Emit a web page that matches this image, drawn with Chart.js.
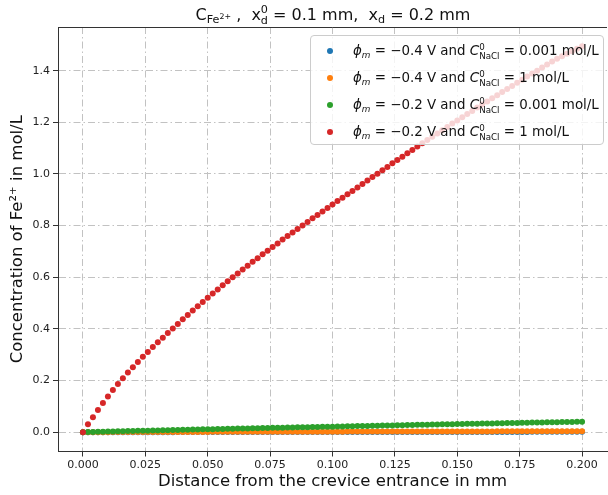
<!DOCTYPE html>
<html>
<head>
<meta charset="utf-8">
<script src="https://cdn.jsdelivr.net/npm/chart.js@4.4.1/dist/chart.umd.min.js"></script>
<style>
  body { margin: 0; background: #fff; }
  #wrap { position: relative; width: 608px; height: 495px; overflow: hidden; font-family: "DejaVu Sans", sans-serif; color: #111; }
  #c { position: absolute; left: 0; top: 0; }
  #title { position: absolute; left: 133px; width: 400px; top: 4px; text-align: center; font-size: 16px; line-height: 20px; white-space: nowrap; }
  #legend { position: absolute; left: 310px; top: 35px; width: 292px; height: 107px; padding-top: 1px;
    background: rgba(255,255,255,0.8); border: 1px solid #cccccc; border-radius: 4px; font-size: 13.4px; }
  .row { position: relative; height: 27px; line-height: 27px; white-space: nowrap; }
  .mk { position: absolute; left: 16px; top: 10.5px; width: 6px; height: 6px; border-radius: 50%; }
  .tx { position: absolute; left: 42px; top: 0; }
  .sb { font-size: 70%; vertical-align: -0.3em; line-height: 0; }
  .sp { font-size: 70%; vertical-align: 0.55em; line-height: 0; }
  .stk { display: inline-block; font-size: 70%; line-height: 1; vertical-align: -0.4em; text-align: left; }
  .stk span { display: block; }
  #legend .sb { font-size: 66%; }
  #legend .stk { font-size: 65%; vertical-align: -0.45em; }
</style>
</head>
<body>
<div id="wrap">
  <canvas id="c" width="611" height="495" style="width:611px;height:495px"></canvas>
  <div id="title">C<span class="sb">Fe<span class="sp">2+</span></span>&nbsp;,&nbsp; x<span class="stk"><span>0</span><span>d</span></span> = 0.1 mm,&nbsp; x<span class="sb">d</span> = 0.2 mm</div>
  <div id="legend"></div>
</div>
<script>
const xs = [
  0.000, 0.002, 0.004, 0.006, 0.008, 0.010, 0.012, 0.014, 0.016, 0.018,
  0.020, 0.022, 0.024, 0.026, 0.028, 0.030, 0.032, 0.034, 0.036, 0.038,
  0.040, 0.042, 0.044, 0.046, 0.048, 0.050, 0.052, 0.054, 0.056, 0.058,
  0.060, 0.062, 0.064, 0.066, 0.068, 0.070, 0.072, 0.074, 0.076, 0.078,
  0.080, 0.082, 0.084, 0.086, 0.088, 0.090, 0.092, 0.094, 0.096, 0.098,
  0.100, 0.102, 0.104, 0.106, 0.108, 0.110, 0.112, 0.114, 0.116, 0.118,
  0.120, 0.122, 0.124, 0.126, 0.128, 0.130, 0.132, 0.134, 0.136, 0.138,
  0.140, 0.142, 0.144, 0.146, 0.148, 0.150, 0.152, 0.154, 0.156, 0.158,
  0.160, 0.162, 0.164, 0.166, 0.168, 0.170, 0.172, 0.174, 0.176, 0.178,
  0.180, 0.182, 0.184, 0.186, 0.188, 0.190, 0.192, 0.194, 0.196, 0.198,
  0.200
];

// phi = -0.4 V, C = 0.001 mol/L
const blueVals = [
  0.0000, 0.0000, 0.0001, 0.0001, 0.0001, 0.0001, 0.0001, 0.0002, 0.0002, 0.0002,
  0.0002, 0.0002, 0.0002, 0.0003, 0.0003, 0.0003, 0.0003, 0.0003, 0.0003, 0.0004,
  0.0004, 0.0004, 0.0004, 0.0004, 0.0004, 0.0004, 0.0005, 0.0005, 0.0005, 0.0005,
  0.0005, 0.0005, 0.0005, 0.0006, 0.0006, 0.0006, 0.0006, 0.0006, 0.0006, 0.0006,
  0.0007, 0.0007, 0.0007, 0.0007, 0.0007, 0.0007, 0.0007, 0.0007, 0.0008, 0.0008,
  0.0008, 0.0008, 0.0008, 0.0008, 0.0008, 0.0008, 0.0009, 0.0009, 0.0009, 0.0009,
  0.0009, 0.0009, 0.0009, 0.0009, 0.0010, 0.0010, 0.0010, 0.0010, 0.0010, 0.0010,
  0.0010, 0.0010, 0.0011, 0.0011, 0.0011, 0.0011, 0.0011, 0.0011, 0.0011, 0.0011,
  0.0011, 0.0012, 0.0012, 0.0012, 0.0012, 0.0012, 0.0012, 0.0012, 0.0012, 0.0012,
  0.0013, 0.0013, 0.0013, 0.0013, 0.0013, 0.0013, 0.0013, 0.0013, 0.0013, 0.0014,
  0.0014
];

// phi = -0.4 V, C = 1 mol/L
const orangeVals = [
  0.0000, 0.0001, 0.0002, 0.0002, 0.0003, 0.0003, 0.0004, 0.0004, 0.0005, 0.0005,
  0.0006, 0.0006, 0.0007, 0.0007, 0.0008, 0.0008, 0.0009, 0.0009, 0.0009, 0.0010,
  0.0010, 0.0011, 0.0011, 0.0011, 0.0012, 0.0012, 0.0013, 0.0013, 0.0013, 0.0014,
  0.0014, 0.0015, 0.0015, 0.0015, 0.0016, 0.0016, 0.0016, 0.0017, 0.0017, 0.0018,
  0.0018, 0.0018, 0.0019, 0.0019, 0.0019, 0.0020, 0.0020, 0.0020, 0.0021, 0.0021,
  0.0022, 0.0022, 0.0022, 0.0023, 0.0023, 0.0023, 0.0024, 0.0024, 0.0024, 0.0025,
  0.0025, 0.0025, 0.0026, 0.0026, 0.0026, 0.0027, 0.0027, 0.0027, 0.0028, 0.0028,
  0.0028, 0.0029, 0.0029, 0.0029, 0.0030, 0.0030, 0.0030, 0.0031, 0.0031, 0.0031,
  0.0032, 0.0032, 0.0032, 0.0033, 0.0033, 0.0033, 0.0034, 0.0034, 0.0034, 0.0035,
  0.0035, 0.0035, 0.0036, 0.0036, 0.0036, 0.0037, 0.0037, 0.0037, 0.0038, 0.0038,
  0.0038
];

// phi = -0.2 V, C = 0.001 mol/L
const greenVals = [
  0.0000, 0.0006, 0.0011, 0.0016, 0.0020, 0.0025, 0.0029, 0.0034, 0.0038, 0.0043,
  0.0047, 0.0052, 0.0056, 0.0061, 0.0065, 0.0070, 0.0074, 0.0079, 0.0083, 0.0088,
  0.0092, 0.0097, 0.0101, 0.0106, 0.0110, 0.0115, 0.0119, 0.0123, 0.0127, 0.0131,
  0.0136, 0.0140, 0.0144, 0.0148, 0.0152, 0.0156, 0.0160, 0.0164, 0.0168, 0.0172,
  0.0176, 0.0180, 0.0184, 0.0188, 0.0192, 0.0196, 0.0200, 0.0204, 0.0208, 0.0212,
  0.0216, 0.0220, 0.0224, 0.0228, 0.0232, 0.0236, 0.0240, 0.0244, 0.0248, 0.0252,
  0.0256, 0.0260, 0.0264, 0.0268, 0.0272, 0.0276, 0.0280, 0.0284, 0.0288, 0.0292,
  0.0296, 0.0300, 0.0304, 0.0308, 0.0312, 0.0316, 0.0320, 0.0324, 0.0327, 0.0331,
  0.0335, 0.0339, 0.0342, 0.0346, 0.0350, 0.0353, 0.0357, 0.0361, 0.0364, 0.0368,
  0.0372, 0.0375, 0.0379, 0.0382, 0.0386, 0.0390, 0.0393, 0.0397, 0.0400, 0.0404,
  0.0407
];

// phi = -0.2 V, C = 1 mol/L
const redVals = [
  0.000, 0.031, 0.058, 0.086, 0.113, 0.138, 0.163, 0.187, 0.209, 0.231,
  0.252, 0.272, 0.292, 0.311, 0.330, 0.348, 0.366, 0.384, 0.402, 0.419,
  0.437, 0.454, 0.471, 0.488, 0.504, 0.521, 0.537, 0.553, 0.569, 0.585,
  0.600, 0.615, 0.630, 0.645, 0.660, 0.674, 0.689, 0.703, 0.717, 0.731,
  0.746, 0.760, 0.773, 0.787, 0.800, 0.814, 0.828, 0.841, 0.855, 0.868,
  0.882, 0.895, 0.908, 0.921, 0.934, 0.948, 0.961, 0.975, 0.988, 1.001,
  1.014, 1.027, 1.041, 1.054, 1.067, 1.080, 1.093, 1.106, 1.119, 1.131,
  1.144, 1.157, 1.169, 1.182, 1.195, 1.207, 1.220, 1.232, 1.244, 1.257,
  1.269, 1.281, 1.293, 1.305, 1.317, 1.329, 1.341, 1.353, 1.365, 1.377,
  1.389, 1.400, 1.412, 1.424, 1.435, 1.446, 1.456, 1.465, 1.475, 1.485,
  1.494
];

const xTicks = [0.000, 0.025, 0.050, 0.075, 0.100, 0.125, 0.150, 0.175, 0.200];
const yTicks = [0.0, 0.2, 0.4, 0.6, 0.8, 1.0, 1.2, 1.4];

const seriesPhi = ["0.4", "0.4", "0.2", "0.2"];
const seriesConc = ["0.001", "1", "0.001", "1"];
const seriesColors = ["#1f77b4", "#ff7f0e", "#2ca02c", "#d62728"];
const seriesValues = [blueVals, orangeVals, greenVals, redVals];

// legend with sub/superscripts is done in html
const legendEl = document.getElementById("legend");
seriesPhi.forEach((phi, i) => {
    legendEl.innerHTML += `<div class="row"><span class="mk" style="background:${seriesColors[i]}"></span>` +
        `<span class="tx"><i>ϕ</i><span class="sb"><i>m</i></span> = −${phi} V and ` +
        `<i>C</i><span class="stk"><span>0</span><span>NaCl</span></span> = ${seriesConc[i]} mol/L</span></div>`;
});

const topSpine = {
    id: "topSpine",
    afterDraw(chart) {
        const { ctx, chartArea } = chart;
        ctx.save();
        ctx.strokeStyle = "#333";
        ctx.lineWidth = 1;
        ctx.beginPath();
        ctx.moveTo(chartArea.left, chartArea.top + 0.5);
        ctx.lineTo(chartArea.right, chartArea.top + 0.5);
        ctx.stroke();
        ctx.restore();
    },
};

const gridColor = "#c2c2c2";
const dashDot = [7, 3, 1.5, 3];

new Chart(document.getElementById("c").getContext("2d"), {
    type: "scatter",
    data: {
        datasets: seriesValues.map((vals, i) => ({
            label: `phi ${seriesPhi[i]} C ${seriesConc[i]}`,
            data: xs.map((x, j) => ({ x: x, y: vals[j] })),
            backgroundColor: seriesColors[i],
            borderColor: seriesColors[i],
            borderWidth: 0,
            pointRadius: 3,
            order: 4 - i,
        })),
    },
    options: {
        responsive: false,
        maintainAspectRatio: false,
        animation: false,
        events: [],
        layout: { padding: { top: 27, left: 0, right: 0, bottom: 0 } },
        plugins: {
            legend: { display: false },
            tooltip: { enabled: false },
        },
        scales: {
            x: {
                type: "linear",
                min: -0.01,
                max: 0.21,
                afterBuildTicks: (axis) => { axis.ticks = xTicks.map((v) => ({ value: v })); },
                afterFit: (scale) => { scale.height = 43.5; },
                grid: { color: gridColor, lineWidth: 1, tickLength: 5, tickColor: "#333", tickBorderDash: [], tickWidth: 1 },
                border: { display: true, color: "#333", width: 1, dash: dashDot },
                ticks: {
                    callback: (v) => Number(v).toFixed(3),
                    font: { family: "DejaVu Sans", size: 11 },
                    color: "#222",
                    padding: 2,
                    maxRotation: 0,
                },
                title: {
                    display: true,
                    text: "Distance from the crevice entrance in mm",
                    font: { family: "DejaVu Sans", size: 16.5 },
                    color: "#111",
                    padding: { top: 0, bottom: 3 },
                },
            },
            y: {
                type: "linear",
                min: -0.0747,
                max: 1.569,
                afterBuildTicks: (axis) => { axis.ticks = yTicks.map((v) => ({ value: v })); },
                afterFit: (scale) => { scale.width = 58; },
                grid: { color: gridColor, lineWidth: 1, tickLength: 5, tickColor: "#333", tickBorderDash: [], tickWidth: 1 },
                border: { display: true, color: "#333", width: 1, dash: dashDot },
                ticks: {
                    callback: (v) => Number(v).toFixed(1),
                    font: { family: "DejaVu Sans", size: 11 },
                    color: "#222",
                    padding: 3,
                },
                title: {
                    display: true,
                    text: "Concentration of Fe²⁺ in mol/L",
                    font: { family: "DejaVu Sans", size: 16.5 },
                    color: "#111",
                    padding: { top: 7.5, bottom: 0 },
                },
            },
        },
    },
    plugins: [topSpine],
});
</script>
</body>
</html>
